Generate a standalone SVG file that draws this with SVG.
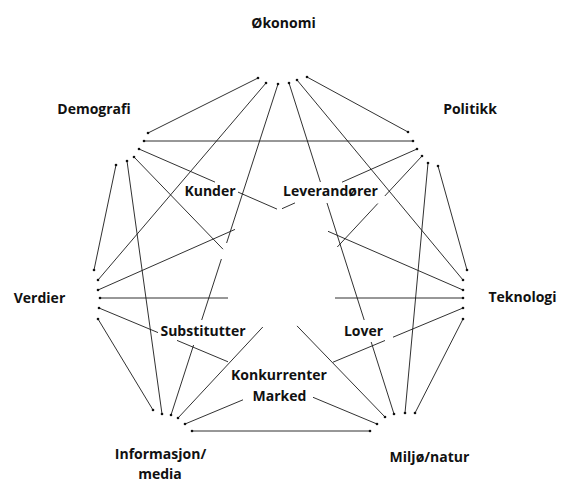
<svg xmlns="http://www.w3.org/2000/svg" width="563" height="491" viewBox="0 0 563 491">
<style>
.lbl{font-family:"Open Sans","Noto Sans","DejaVu Sans",sans-serif;font-weight:700;font-size:14px;fill:#111;text-anchor:middle}
.ln{fill:none;stroke:#1a1a1a;stroke-width:0.9;marker-start:url(#dot);marker-end:url(#dot)}
</style>
<defs>
<marker id="dot" markerUnits="userSpaceOnUse" markerWidth="4" markerHeight="4" refX="2" refY="2" viewBox="0 0 4 4"><circle cx="2" cy="2" r="1.3" fill="#111"/></marker>
</defs>
<rect width="563" height="491" fill="#fff"/>
<g id="connectors">
<path class="ln" d="M258,78 L148,133"/>
<path class="ln" d="M266,83 L98,280"/>
<path class="ln" d="M278,84 L226.6,243 M221.4,259 L201.7,320 M193.6,345 L171,415"/>
<path class="ln" d="M289,83 L320.4,182 M327,203 L364.2,320 M371.2,342 L394,414"/>
<path class="ln" d="M297,80 L463,280"/>
<path class="ln" d="M307,77 L408,132"/>
<path class="ln" d="M144,141 L413,141"/>
<path class="ln" d="M139,149 L215,182.1 M238,192.1 L277,209.1 M328,231.3 L463,290"/>
<path class="ln" d="M134,157 L223,249.2 M297,325.9 L385,417"/>
<path class="ln" d="M127,161 L162,414"/>
<path class="ln" d="M116,165 L94,270"/>
<path class="ln" d="M417,149 L342,182.2 M295,202.9 L282,208.7 M235,229.4 L98,290"/>
<path class="ln" d="M422,156 L384.8,196 M377.8,203.5 L337.3,247 M262.8,327 L178,418"/>
<path class="ln" d="M428,163 L405,413"/>
<path class="ln" d="M438,166 L467,270"/>
<path class="ln" d="M100,298 L228,298 M335,298 L463,298"/>
<path class="ln" d="M99,308 L158,332.6 M177,340.4 L228,361.8 M313,397.3 L377,424"/>
<path class="ln" d="M98,319 L153,410"/>
<path class="ln" d="M463,308 L393,337.2 M385,340.5 L333,362.2 M243,399.8 L185,424"/>
<path class="ln" d="M463,319 L415,413"/>
<path class="ln" d="M192,431 L370,431"/>
</g>
<g id="okonomi"><text class="lbl" x="283.5" y="28">Økonomi</text></g>
<g id="demografi"><text class="lbl" x="94" y="114">Demografi</text></g>
<g id="politikk"><text class="lbl" x="470" y="114">Politikk</text></g>
<g id="verdier"><text class="lbl" x="39.5" y="303">Verdier</text></g>
<g id="teknologi"><text class="lbl" x="522.5" y="302">Teknologi</text></g>
<g id="informasjon"><text class="lbl" x="160.5" y="459">Informasjon/</text><text class="lbl" x="160" y="479">media</text></g>
<g id="miljo"><text class="lbl" x="429.5" y="462">Miljø/natur</text></g>
<g id="kunder"><text class="lbl" x="210" y="196">Kunder</text></g>
<g id="leverandorer"><text class="lbl" x="330.5" y="196">Leverandører</text></g>
<g id="substitutter"><text class="lbl" x="203" y="336">Substitutter</text></g>
<g id="lover"><text class="lbl" x="363.5" y="336">Lover</text></g>
<g id="konkurrenter"><text class="lbl" x="279" y="380">Konkurrenter</text><text class="lbl" x="279.5" y="401">Marked</text></g>
</svg>
